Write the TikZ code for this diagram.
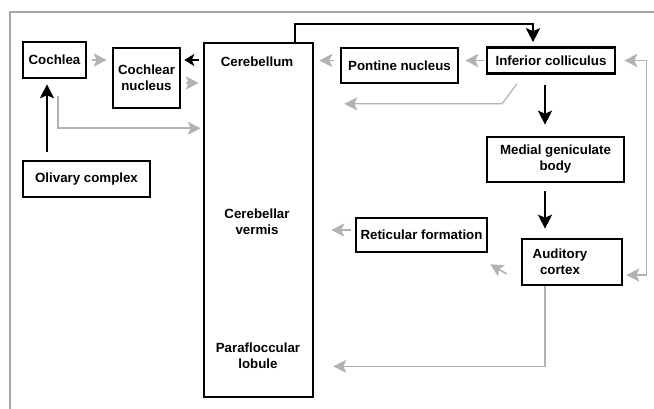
\documentclass[tikz,border=0pt]{standalone}
\usepackage{fontspec}
\setmainfont{Liberation Sans}
\usetikzlibrary{arrows.meta,calc,positioning}

\begin{document}
\begin{tikzpicture}[x=1pt, y=-1pt, thick,
    box/.style={draw, line width=2.6pt, inner sep=0pt, align=center, font=\bfseries\fontsize{13.3}{16}\selectfont},
    txt/.style={inner sep=0pt, align=center, font=\bfseries\fontsize{13.3}{16}\selectfont},
    blk/.style={line width=2.2pt, -{Stealth[length=14pt, width=14pt, inset=3pt]}},
    blksmall/.style={line width=2.2pt, -{Stealth[length=10pt, width=12pt, inset=2.5pt]}},
    gry/.style={draw=gray!60, line width=1.6pt, -{Stealth[length=13pt, width=13pt, inset=3pt]}},
    grytwo/.style={draw=gray!60, line width=1.6pt, {Stealth[length=13pt, width=13pt, inset=3pt]}-{Stealth[length=13pt, width=13pt, inset=3pt]}}]
    \useasboundingbox (0,0) rectangle (654,409);
    % Frame
    \draw[gray!70, line width=1.2pt] (654,12) -- (10,12) -- (10,409);

    % Nodes
    \node[box, minimum width=63pt, minimum height=36pt] (cochlea) at (54.5,60) {Cochlea};
    \node[box, minimum width=67pt, minimum height=60pt] (cochnuc) at (146.5,78) {Cochlear\\nucleus};
    \node[box, minimum width=127pt, minimum height=36pt] (olivary) at (86.5,179) {Olivary complex};
    \node[box, minimum width=109pt, minimum height=354pt] (cereb) at (258.5,220) {};
    \node[txt] (cerebtxt) at (257,62) {Cerebellum};
    \node[txt] (vermis) at (257,222) {Cerebellar\\vermis};
    \node[txt] (paraflocc) at (258,356) {Parafloccular\\lobule};
    \node[box, minimum width=117pt, minimum height=35pt] (pontine) at (399.5,65.5) {Pontine nucleus};
    \node[box, minimum width=128pt, minimum height=26pt] (infcol) at (551,60.5) {Inferior colliculus};
    \node[box, minimum width=137pt, minimum height=45pt] (mgb) at (555.5,159.5) {Medial geniculate\\body};
    \node[box, minimum width=131pt, minimum height=34pt] (reticular) at (421.5,235) {Reticular formation};
    \node[box, minimum width=100pt, minimum height=46pt] (audit) at (572,262) {};
    \node[txt] (audittxt) at (560,262) {Auditory\\cortex};

    % Helper points
    \coordinate (cnout) at ($(cochnuc.east)+(5,5)$);
    \coordinate (clout) at ($(cochlea.south)+(3.5,17)$);
    \coordinate (clbend) at ($(clout)+(0,32)$);
    \coordinate (olout) at ($(olivary.north)+(-39.5,-8)$);
    \coordinate (cbtop) at ($(cereb.north)+(36.5,-18)$);
    \coordinate (icin) at ($(infcol.north)+(-18,0)$);
    \coordinate (icout) at ($(infcol.south)+(-34,9)$);
    \coordinate (icbend) at ($(icout)+(-15,20)$);
    \coordinate (icdown) at ($(infcol.south)+(-6,0)$);
    \coordinate (mgdown) at ($(mgb.south)+(-10.5,0)$);
    \coordinate (rtop) at ($(infcol.east)+(30,0)$);
    \coordinate (rbot) at ($(audit.east)+(23,13)$);
    \coordinate (rfout) at ($(reticular.west)+(-4,-5)$);
    \coordinate (acdiag) at ($(audit.west)+(-14,12)$);
    \coordinate (rfdiag) at ($(reticular.south east)+(2,11)$);
    \coordinate (acout) at ($(audit.south)+(-27,0)$);
    \coordinate (acbend) at ($(acout)+(0,80)$);

    % Connect nodes
    \draw[gry, shorten <=5pt, shorten >=5pt] (cochlea.east) -- (cochnuc.west |- cochlea.east);
    \draw[blksmall, shorten <=4pt, shorten >=3pt] (cereb.west |- cochlea.east) -- (cochnuc.east |- cochlea.east);
    \draw[gry, shorten >=4pt] (cnout) -- (cnout -| cereb.west);
    \draw[gry, shorten >=2pt] (clout) |- (clbend -| cereb.west);
    \draw[blk, shorten >=5pt] (olout) -- (olout |- cochlea.south);
    \draw[blk, shorten >=4pt] (cbtop |- cereb.north) -- (cbtop) -| (icin);

    \draw[gry, shorten <=6pt, shorten >=5pt] (pontine.west |- infcol.west) -- (cereb.east |- infcol.west);
    \draw[gry, shorten <=2pt, shorten >=6pt] (infcol.west) -- (pontine.east |- infcol.west);
    \draw[gry, line width=1.2pt, shorten >=30pt] (icout) -- (icbend) -- (icbend -| cereb.east);

    \draw[blk, shorten <=10pt, shorten >=11pt] (icdown) -- (icdown |- mgb.north);
    \draw[blk, shorten <=8pt, shorten >=9pt] (mgdown) -- (mgdown |- audit.north);
    \draw[grytwo, shorten <=8pt, shorten >=3pt] (infcol.east) -- (rtop) -- (rbot) -- (rbot -| audit.east);

    \draw[gry, shorten >=17pt] (rfout) -- (rfout -| cereb.east);
    \draw[gry] (acdiag) -- (rfdiag);
    \draw[gry, shorten >=19pt] (acout) -- (acbend) -- (acbend -| cereb.east);
\end{tikzpicture}
\end{document}
